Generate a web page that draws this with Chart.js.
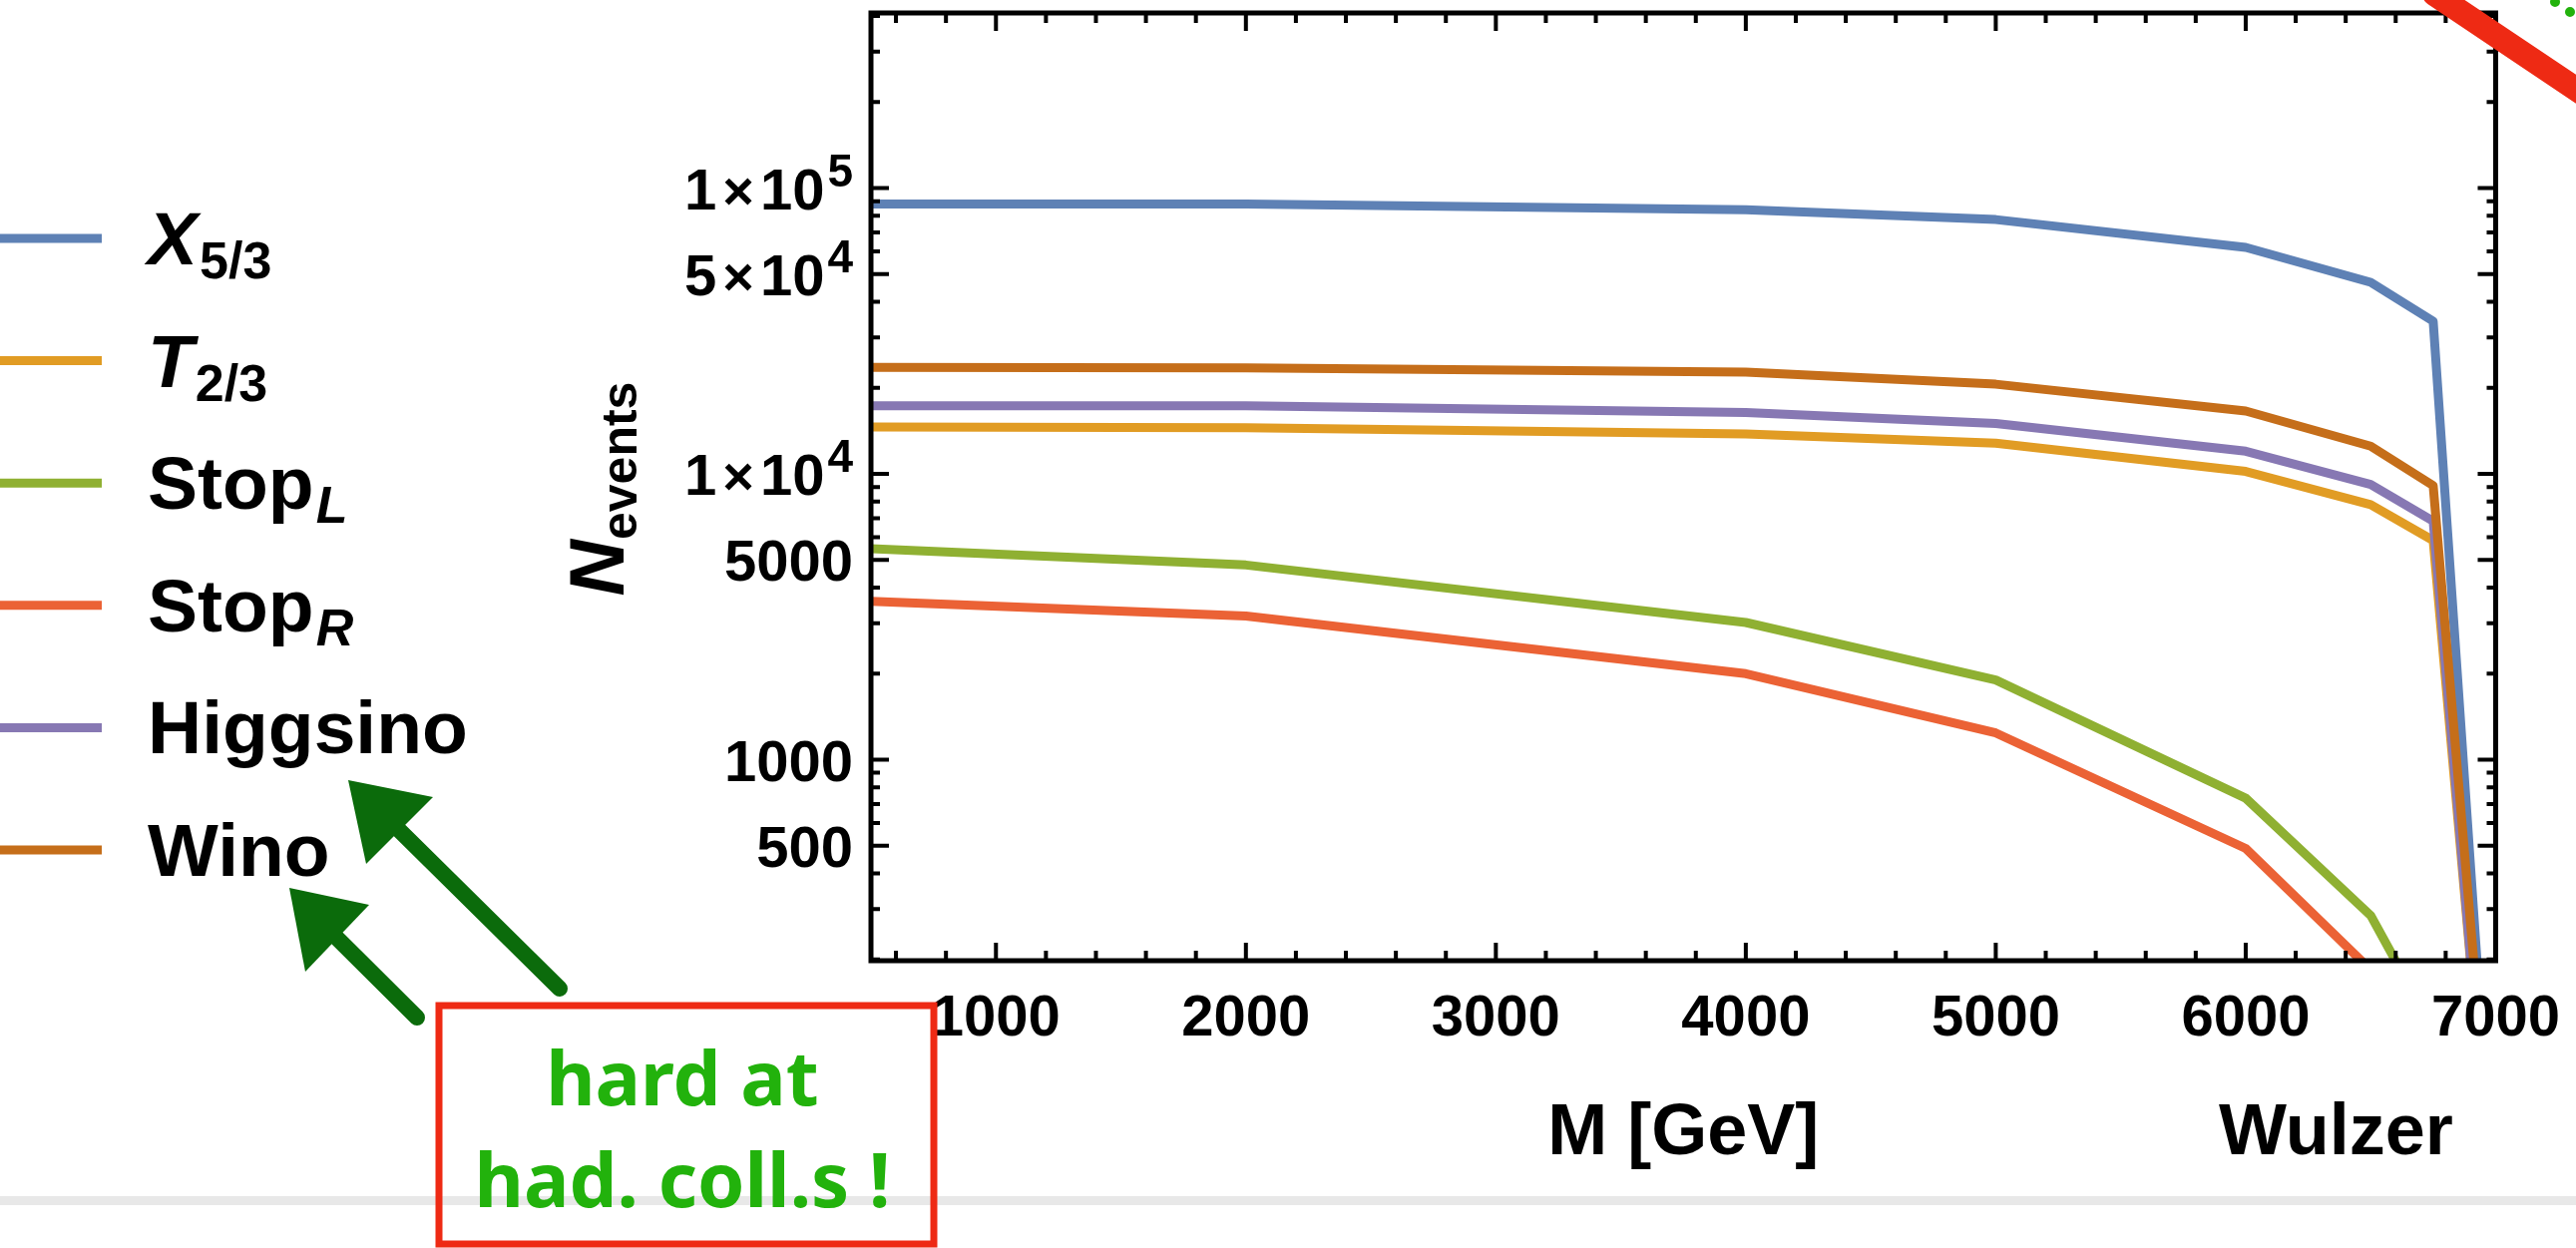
<!DOCTYPE html>
<html>
<head>
<meta charset="utf-8">
<title>N events vs M</title>
<script src="https://cdn.jsdelivr.net/npm/chart.js@4.4.1/dist/chart.umd.min.js"></script>
<style>
  html, body { margin: 0; padding: 0; background: #fff; }
  #wrap { width: 2582px; height: 1251px; }
</style>
</head>
<body>
<div id="wrap"><canvas id="nevents" width="2582" height="1251"></canvas></div>
<script>
'use strict'

// mass points [GeV] and event counts
var masses   = [500, 2000, 4000, 5000, 6000, 6500, 6750, 7000]
var x53      = [88000, 88000, 84000, 77600, 62000, 46800, 34200, 22]
var t23      = [14600, 14500, 13800, 12800, 10200, 7800, 5850, 20]
var stopL    = [5470, 4800, 3020, 1900, 733, 285, 114, 40]
var stopR    = [3580, 3180, 2000, 1240, 489, 184, 70, 25]
var higgsino = [17300, 17300, 16400, 15000, 12000, 9180, 6830, 19]
var wino     = [23600, 23500, 22700, 20600, 16600, 12500, 9100, 25]

var seriesData   = [x53, t23, stopL, stopR, higgsino, wino]
var seriesNames  = ['X', 'T', 'Stop', 'Stop', 'Higgsino', 'Wino']
var seriesSubs   = ['5/3', '2/3', 'L', 'R', '', '']
var nameItalic   = [true, true, false, false, false, false]
var subItalic    = [false, false, true, true, false, false]
var seriesColors = ['#5e81b5', '#e19c24', '#8fb032', '#eb6235', '#8778b3', '#c56e1a']

var xTicks      = [1000, 2000, 3000, 4000, 5000, 6000, 7000]
var yTickValues = [500, 1000, 5000, 10000, 50000, 100000]
var yTickBase   = ['500', '1000', '5000', '1', '5', '1']
var yTickExp    = ['', '', '', '4', '4', '5']

var FONT = "'Liberation Sans', Arial, Helvetica, sans-serif"

function fontStr(size, italic) {
    return (italic ? 'italic ' : '') + 'bold ' + size + 'px ' + FONT
}

// draw a run of text pieces with different fonts / offsets
function drawParts(ctx, parts, x, y, align) {
    var total = 0
    for (var i = 0; i < parts.length; i++) {
        ctx.font = parts[i].font
        parts[i].w = ctx.measureText(parts[i].text).width
        total += parts[i].w + (parts[i].gap || 0)
    }
    var cx = x
    if (align === 'right') cx = x - total
    if (align === 'center') cx = x - total / 2
    ctx.textAlign = 'left'
    ctx.textBaseline = 'alphabetic'
    for (var j = 0; j < parts.length; j++) {
        cx += parts[j].gap || 0
        ctx.font = parts[j].font
        ctx.fillText(parts[j].text, cx, y + (parts[j].dy || 0))
        cx += parts[j].w
    }
}

var framePlugin = {
    id: 'frame',
    beforeDraw: function(chart) {
        var ctx = chart.ctx
        ctx.save()
        ctx.fillStyle = '#fff'
        ctx.fillRect(0, 0, chart.width, chart.height)
        ctx.fillStyle = '#e8e8e8'
        ctx.fillRect(0, 1199, chart.width, 9)
        ctx.restore()
    },
    afterDatasetsDraw: function(chart) {
        var ctx = chart.ctx
        var a = chart.chartArea
        var xs = chart.scales.x, ys = chart.scales.y
        ctx.save()
        ctx.strokeStyle = '#000'
        ctx.lineWidth = 4
        ctx.beginPath()
        // x ticks, inward on bottom and top
        for (var v = 600; v <= 6800; v += 200) {
            var px = xs.getPixelForValue(v)
            var len = (v % 1000 === 0) ? 18 : 10
            ctx.moveTo(px, a.bottom); ctx.lineTo(px, a.bottom - len)
            ctx.moveTo(px, a.top); ctx.lineTo(px, a.top + len)
        }
        // y ticks, log: 1 and 5 long, others short
        for (var dec = 100; dec <= 100000; dec *= 10) {
            for (var m = 1; m <= 9; m++) {
                var val = m * dec
                if (val < ys.min || val > ys.max) continue
                var py = ys.getPixelForValue(val)
                var l = (m === 1 || m === 5) ? 18 : 9
                ctx.moveTo(a.left, py); ctx.lineTo(a.left + l, py)
                ctx.moveTo(a.right, py); ctx.lineTo(a.right - l, py)
            }
        }
        ctx.stroke()
        ctx.lineWidth = 5
        ctx.strokeRect(a.left, a.top, a.right - a.left, a.bottom - a.top)
        ctx.restore()
    },
    afterDraw: function(chart) {
        var ctx = chart.ctx
        var ys = chart.scales.y
        ctx.save()
        ctx.fillStyle = '#000'

        // y tick labels with powers of ten
        for (var i = 0; i < yTickValues.length; i++) {
            var py = ys.getPixelForValue(yTickValues[i]) + 21
            var parts
            if (yTickExp[i]) {
                parts = [
                    {text: yTickBase[i], font: fontStr(58)},
                    {text: '\u00d7', font: fontStr(54), gap: 6},
                    {text: '10', font: fontStr(58), gap: 6},
                    {text: yTickExp[i], font: fontStr(46), dy: -23, gap: 3}
                ]
            } else {
                parts = [{text: yTickBase[i], font: fontStr(58)}]
            }
            drawParts(ctx, parts, 855, py, 'right')
        }

        // y axis title
        ctx.save()
        ctx.translate(625, 490)
        ctx.rotate(-Math.PI / 2)
        drawParts(ctx, [
            {text: 'N', font: fontStr(78, true)},
            {text: 'events', font: fontStr(50), dy: 13}
        ], 0, 0, 'center')
        ctx.restore()

        // credit under the frame
        drawParts(ctx, [{text: 'Wulzer', font: fontStr(72)}], 2224, 1157, 'left')

        // legend
        for (var k = 0; k < seriesNames.length; k++) {
            var ly = 239 + 122.6 * k
            ctx.strokeStyle = seriesColors[k]
            ctx.lineWidth = 9
            ctx.beginPath()
            ctx.moveTo(0, ly)
            ctx.lineTo(102, ly)
            ctx.stroke()
            var lp = [{text: seriesNames[k], font: fontStr(75, nameItalic[k])}]
            if (seriesSubs[k]) lp.push({text: seriesSubs[k], font: fontStr(52, subItalic[k]), dy: 14, gap: 2})
            ctx.fillStyle = '#000'
            drawParts(ctx, lp, 148, ly + 26, 'left')
        }

        // hand-drawn annotations
        ctx.strokeStyle = '#ee2a14'
        ctx.lineWidth = 7
        ctx.strokeRect(440, 1008, 496, 239)
        ctx.fillStyle = '#22b20c'
        ctx.font = "bold 76px 'Comic Sans MS', 'Noto Sans', sans-serif"
        ctx.textAlign = 'center'
        ctx.fillText('hard at', 684, 1108)
        ctx.fillText('had. coll.s !', 684, 1210)

        var arrows = [
            {tail: [561, 991], tip: [349, 782], c1: [434, 799], c2: [367, 866]},
            {tail: [418, 1020], tip: [290, 890], c1: [370, 907], c2: [306, 974]}
        ]
        ctx.strokeStyle = '#0b6b0b'
        ctx.fillStyle = '#0b6b0b'
        ctx.lineCap = 'round'
        for (var n = 0; n < arrows.length; n++) {
            var ar = arrows[n]
            ctx.lineWidth = 16
            ctx.beginPath()
            ctx.moveTo(ar.tail[0], ar.tail[1])
            ctx.lineTo((ar.c1[0] + ar.c2[0]) / 2, (ar.c1[1] + ar.c2[1]) / 2)
            ctx.stroke()
            ctx.beginPath()
            ctx.moveTo(ar.tip[0], ar.tip[1])
            ctx.lineTo(ar.c1[0], ar.c1[1])
            ctx.lineTo(ar.c2[0], ar.c2[1])
            ctx.closePath()
            ctx.fill()
        }

        ctx.strokeStyle = '#ee2a14'
        ctx.lineWidth = 24
        ctx.beginPath()
        ctx.moveTo(2440, -6)
        ctx.lineTo(2592, 96)
        ctx.stroke()
        ctx.fillStyle = '#22b20c'
        ctx.beginPath()
        ctx.arc(2561, 2, 5, 0, Math.PI * 2)
        ctx.arc(2576, 12, 5, 0, Math.PI * 2)
        ctx.fill()
        ctx.restore()
    }
}

var datasets = []
for (var i = 0; i < seriesData.length; i++) {
    var pts = []
    for (var j = 0; j < masses.length; j++) {
        pts.push({x: masses[j], y: seriesData[i][j]})
    }
    datasets.push({
        label: seriesNames[i] + seriesSubs[i],
        data: pts,
        borderColor: seriesColors[i],
        backgroundColor: 'transparent',
        borderWidth: 9,
        borderJoinStyle: 'round',
        pointRadius: 0,
        tension: 0,
        clip: 0,
        order: seriesData.length - 1 - i
    })
}

var ctx = document.getElementById('nevents')
new Chart(ctx, {
    type: 'line',
    data: { datasets: datasets },
    options: {
        responsive: false,
        animation: false,
        devicePixelRatio: 1,
        layout: { padding: { top: 13, right: 71, bottom: 0, left: 0 } },
        plugins: {
            legend: { display: false },
            tooltip: { enabled: false }
        },
        scales: {
            x: {
                type: 'linear',
                min: 500,
                max: 7000,
                grid: { display: false },
                border: { display: false },
                afterFit: function(scale) { scale.height = 288 },
                afterBuildTicks: function(scale) {
                    scale.ticks = xTicks.map(function(v) { return {value: v} })
                },
                ticks: {
                    color: '#000',
                    padding: 16,
                    maxRotation: 0,
                    autoSkip: false,
                    font: { family: FONT, size: 58, weight: 'bold' },
                    callback: function(v) { return String(v) }
                },
                title: {
                    display: true,
                    text: 'M [GeV]',
                    color: '#000',
                    font: { family: FONT, size: 72, weight: 'bold' },
                    padding: { top: 0, bottom: 71 }
                }
            },
            y: {
                type: 'logarithmic',
                min: 198,
                max: 410000,
                grid: { display: false },
                border: { display: false },
                ticks: { display: false },
                afterFit: function(scale) { scale.width = 873 }
            }
        }
    },
    plugins: [framePlugin]
})
</script>
</body>
</html>
